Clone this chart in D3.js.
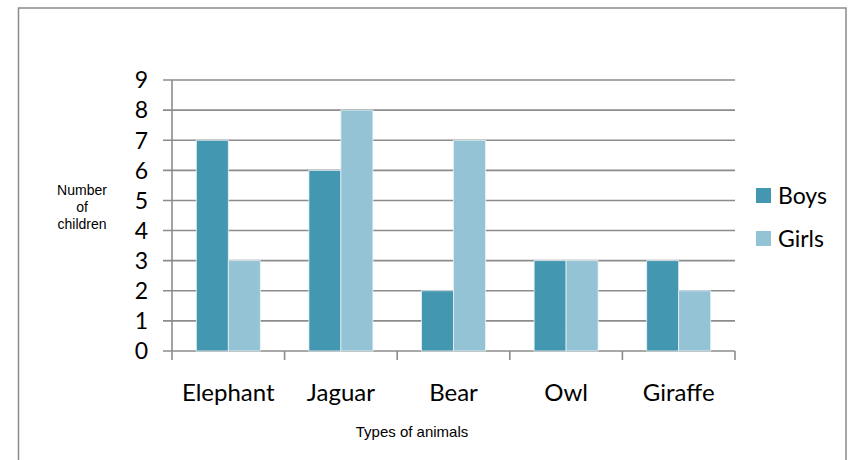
<!DOCTYPE html>
<html>
<head>
<meta charset="utf-8">
<script src="https://cdn.jsdelivr.net/npm/d3@7"></script>
<style>
  body { margin: 0; background: #fff; }
  svg { display: block; }
</style>
</head>
<body>
<div id="chart"></div>
<script>
let categories = ["Elephant", "Jaguar", "Bear", "Owl", "Giraffe"]
let seriesNames = ["Boys", "Girls"]
let boys = [7, 6, 2, 3, 3]
let girls = [3, 8, 7, 3, 2]
let yTicks = [0, 1, 2, 3, 4, 5, 6, 7, 8, 9]

let width = 852,
    height = 460

let colors = { Boys: "#4397b0", Girls: "#93c3d5" }
let gridColor = "#8c8c8c"

let svg = d3.select("#chart").append("svg")
  .attr("width", width)
  .attr("height", height)

// outer frame (bottom edge sits below the picture)
svg.append("rect")
  .attr("x", 18.5).attr("y", 8)
  .attr("width", 827.5).attr("height", 470)
  .attr("fill", "none")
  .attr("stroke", "#8a8a8a")
  .attr("stroke-width", 1.5)

let plot = { left: 172, right: 735, top: 80, bottom: 351 }

let x = d3.scaleBand()
  .domain(categories)
  .range([plot.left, plot.right])

let x1 = d3.scaleBand()
  .domain(seriesNames)
  .range([0, x.bandwidth()])
  .paddingOuter(0.76)

let y = d3.scaleLinear()
  .domain([0, 9])
  .range([plot.bottom, plot.top])

// gridlines + y ticks
svg.append("g")
  .selectAll("line")
  .data(yTicks)
  .enter().append("line")
  .attr("x1", plot.left - 9)
  .attr("x2", plot.right)
  .attr("y1", d => y(d))
  .attr("y2", d => y(d))
  .attr("stroke", gridColor)
  .attr("stroke-width", 1.6)

// y axis line
svg.append("line")
  .attr("x1", plot.left).attr("x2", plot.left)
  .attr("y1", plot.top).attr("y2", plot.bottom + 9)
  .attr("stroke", gridColor)
  .attr("stroke-width", 1.6)

// x axis ticks at the band edges
let edges = categories.map(c => x(c)).concat([plot.right])
svg.append("g")
  .selectAll("line")
  .data(edges.slice(1))
  .enter().append("line")
  .attr("x1", d => d).attr("x2", d => d)
  .attr("y1", plot.bottom).attr("y2", plot.bottom + 9)
  .attr("stroke", gridColor)
  .attr("stroke-width", 1.6)

// y tick labels
svg.append("g")
  .selectAll("text")
  .data(yTicks)
  .enter().append("text")
  .attr("x", 148)
  .attr("y", d => y(d))
  .attr("dy", "0.36em")
  .attr("text-anchor", "end")
  .style("font-family", "Lato, sans-serif")
  .style("font-size", "23px")
  .attr("fill", "#000")
  .text(d => d)

// bars
let rows = categories.map((c, i) => ({ cat: c, Boys: boys[i], Girls: girls[i] }))
svg.append("g")
  .selectAll("g")
  .data(rows)
  .enter().append("g")
  .attr("transform", d => "translate(" + x(d.cat) + ",0)")
  .selectAll("rect")
  .data(d => seriesNames.map(s => ({ key: s, value: d[s] })))
  .enter().append("rect")
  .attr("x", d => x1(d.key))
  .attr("y", d => y(d.value))
  .attr("width", x1.bandwidth())
  .attr("height", d => y(0) - y(d.value))
  .attr("fill", d => colors[d.key])
  .attr("stroke", "#e8f2f5")
  .attr("stroke-width", 0.8)

// category labels
svg.append("g")
  .selectAll("text")
  .data(categories)
  .enter().append("text")
  .attr("x", d => x(d) + x.bandwidth() / 2)
  .attr("y", 401)
  .attr("text-anchor", "middle")
  .style("font-family", "Lato, sans-serif")
  .style("font-size", "24px")
  .attr("fill", "#000")
  .text(d => d)

// axis titles
svg.append("text")
  .attr("x", 412).attr("y", 437)
  .attr("text-anchor", "middle")
  .style("font-family", "'Liberation Sans', Arial, sans-serif")
  .style("font-size", "15px")
  .text("Types of animals")

let yTitle = svg.append("text")
  .attr("text-anchor", "middle")
  .style("font-family", "'Liberation Sans', Arial, sans-serif")
  .style("font-size", "14px")
yTitle.selectAll("tspan")
  .data(["Number", "of", "children"])
  .enter().append("tspan")
  .attr("x", 82)
  .attr("y", (d, i) => 195 + i * 17)
  .text(d => d)

// legend
let legend = svg.append("g")
  .selectAll("g")
  .data(seriesNames)
  .enter().append("g")
  .attr("transform", (d, i) => "translate(756," + (188 + i * 43) + ")")

legend.append("rect")
  .attr("width", 15).attr("height", 15)
  .attr("fill", d => colors[d])

legend.append("text")
  .attr("x", 22).attr("y", 16)
  .style("font-family", "Lato, sans-serif")
  .style("font-size", "23px")
  .text(d => d)
</script>
</body>
</html>
